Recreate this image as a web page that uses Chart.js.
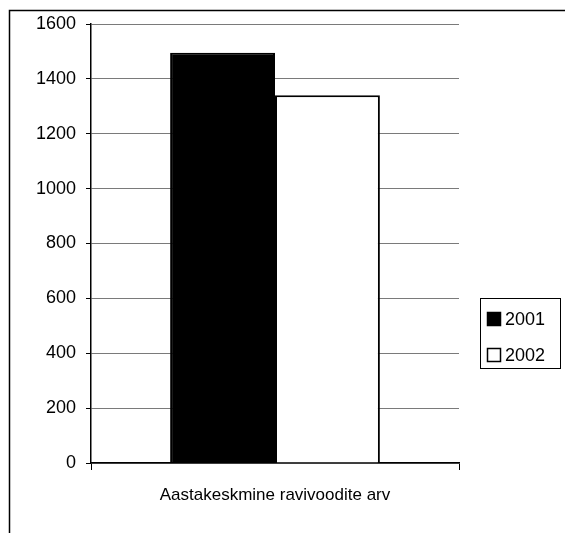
<!DOCTYPE html>
<html lang="et">
<head>
  <meta charset="UTF-8" />
  <title>Aastakeskmine ravivoodite arv</title>
  <script src="https://cdn.jsdelivr.net/npm/chart.js"></script>
  <style>
    body { margin: 0; padding: 0; background: #ffffff; }
    canvas { display: block; }
  </style>
</head>
<body>
<canvas id="bedsChart" width="565" height="533"></canvas>

<script>
  // data
  const categories = ['Aastakeskmine ravivoodite arv'];
  const years = ['2001', '2002'];
  const beds2001 = [1495];
  const beds2002 = [1340];
  const yTicks = [0, 200, 400, 600, 800, 1000, 1200, 1400, 1600];

  const fontFamily = '"Liberation Sans", Arial, sans-serif';

  // outer frame of the scanned figure + boxed legend on the right
  const framePlugin = {
    id: 'frame',
    afterDraw(chart) {
      const c = chart.ctx;
      c.save();
      c.strokeStyle = '#000';
      c.lineWidth = 1.5;
      c.beginPath();
      c.moveTo(9.5, 533);
      c.lineTo(9.5, 10.5);
      c.lineTo(565, 10.5);
      c.stroke();

      // legend box
      c.lineWidth = 1;
      c.strokeRect(480.5, 298.5, 80, 70);
      c.font = '18px ' + fontFamily;
      c.textBaseline = 'middle';
      chart.data.datasets.forEach((ds, i) => {
        const y = 312 + i * 36;
        c.fillStyle = ds.backgroundColor;
        c.fillRect(487, y, 14, 14);
        c.strokeStyle = '#000';
        c.lineWidth = 1.5;
        c.strokeRect(487.5, y + 0.5, 13, 13);
        c.fillStyle = '#000';
        c.fillText(ds.label, 505, y + 8);
      });
      c.restore();
    }
  };

  const ctx = document.getElementById('bedsChart').getContext('2d');
  const chart = new Chart(ctx, {
    type: 'bar',
    data: {
      labels: categories,
      datasets: [{
        label: years[0],
        data: beds2001,
        backgroundColor: '#000000',
        borderColor: '#000000',
        borderWidth: 2
      }, {
        label: years[1],
        data: beds2002,
        backgroundColor: '#ffffff',
        borderColor: '#000000',
        borderWidth: 2
      }]
    },
    options: {
      responsive: false,
      animation: false,
      layout: {
        padding: { left: 9, top: 24, right: 106, bottom: 0 }
      },
      plugins: {
        legend: { display: false },
        tooltip: { enabled: false }
      },
      datasets: {
        bar: { categoryPercentage: 0.57, barPercentage: 1 }
      },
      scales: {
        x: {
          afterFit(scale) { scale.height = 70; },
          grid: {
            offset: true,
            drawOnChartArea: false,
            drawTicks: true,
            tickLength: 7,
            tickColor: '#000'
          },
          border: { color: '#000', width: 1.5 },
          ticks: {
            color: '#000',
            padding: 15,
            font: { family: fontFamily, size: 17 }
          }
        },
        y: {
          min: yTicks[0],
          max: yTicks[yTicks.length - 1],
          afterFit(scale) { scale.width = 82; },
          afterBuildTicks(scale) {
            scale.ticks = yTicks.map(v => ({ value: v }));
          },
          grid: {
            color: '#7a7a7a',
            lineWidth: 1,
            drawTicks: true,
            tickLength: 5,
            tickColor: '#000'
          },
          border: { color: '#000', width: 1.5 },
          ticks: {
            color: '#000',
            padding: 10,
            font: { family: fontFamily, size: 18 },
            callback: v => String(v)
          }
        }
      }
    },
    plugins: [framePlugin]
  });
</script>
</body>
</html>
